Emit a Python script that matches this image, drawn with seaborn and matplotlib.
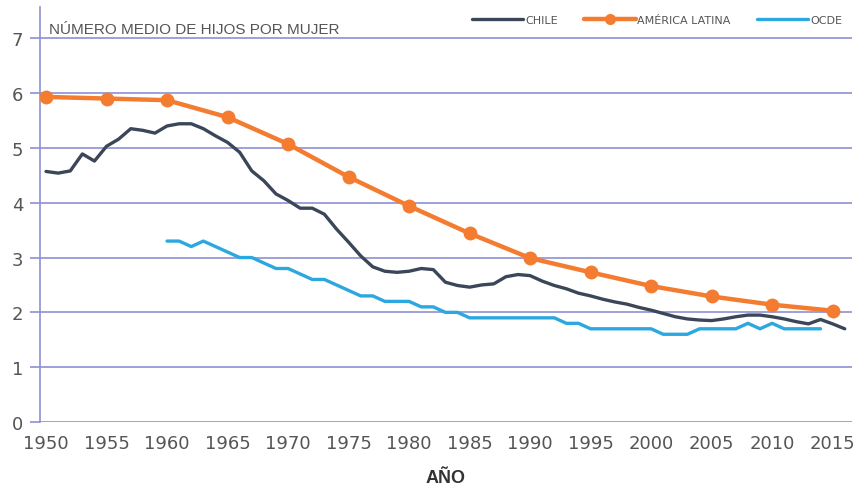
import matplotlib
matplotlib.use("Agg")
import matplotlib.pyplot as plt
import seaborn as sns
import numpy as np
import pandas as pd

# ---- data ----
chile_years = list(range(1950, 2017))
chile_values = [4.57, 4.54, 4.58, 4.89, 4.76, 5.03, 5.16, 5.35, 5.32, 5.27,
                5.40, 5.44, 5.44, 5.35, 5.22, 5.10, 4.92, 4.58, 4.40, 4.16,
                4.04, 3.90, 3.90, 3.79, 3.52, 3.28, 3.03, 2.83, 2.75, 2.73,
                2.75, 2.80, 2.78, 2.55, 2.49, 2.46, 2.50, 2.52, 2.65, 2.69,
                2.67, 2.57, 2.49, 2.43, 2.35, 2.30, 2.24, 2.19, 2.15, 2.09,
                2.04, 1.98, 1.92, 1.88, 1.86, 1.85, 1.88, 1.92, 1.95, 1.95,
                1.92, 1.88, 1.83, 1.79, 1.87, 1.79, 1.70]

latam_years = list(range(1950, 2016, 5))
latam_values = [5.93, 5.90, 5.87, 5.56, 5.07, 4.47, 3.94, 3.44, 2.99, 2.73,
                2.48, 2.29, 2.14, 2.03]

ocde_years = list(range(1960, 2015))
ocde_values = [3.3, 3.3, 3.2, 3.3, 3.2, 3.1, 3.0, 3.0, 2.9, 2.8,
               2.8, 2.7, 2.6, 2.6, 2.5, 2.4, 2.3, 2.3, 2.2, 2.2,
               2.2, 2.1, 2.1, 2.0, 2.0, 1.9, 1.9, 1.9, 1.9, 1.9,
               1.9, 1.9, 1.9, 1.8, 1.8, 1.7, 1.7, 1.7, 1.7, 1.7,
               1.7, 1.6, 1.6, 1.6, 1.7, 1.7, 1.7, 1.7, 1.8, 1.7,
               1.8, 1.7, 1.7, 1.7, 1.7]

x_ticks = list(range(1950, 2016, 5))
y_ticks = list(range(0, 8))
title_text = "NÚMERO MEDIO DE HIJOS POR MUJER"
x_label = "AÑO"
labels = ["CHILE", "AMÉRICA LATINA", "OCDE"]

# ---- style ----
sns.set_style("white")
plt.rcParams["font.family"] = ["DejaVu Sans"]

grid_c = "#8e90d2"
c_chile = "#3b4759"
c_latam = "#f47c30"
c_ocde = "#2ba8df"
txt_c = "#555555"

fig = plt.figure(figsize=(8.56, 4.89), dpi=100)
ax = fig.add_axes([40 / 856, 1 - 423 / 489, (852 - 40) / 856, (423 - 8) / 489])

df_chile = pd.DataFrame({"year": chile_years, "value": chile_values})
df_latam = pd.DataFrame({"year": latam_years, "value": latam_values})
df_ocde = pd.DataFrame({"year": ocde_years, "value": ocde_values})

for y in y_ticks:
    ax.axhline(y, color=grid_c, lw=1.2, zorder=0)

sns.lineplot(data=df_chile, x="year", y="value", ax=ax, color=c_chile, lw=2.4,
             label=labels[0], zorder=3)
sns.lineplot(data=df_latam, x="year", y="value", ax=ax, color=c_latam, lw=3.2,
             marker="o", markersize=10, markeredgewidth=0, label=labels[1], zorder=4)
sns.lineplot(data=df_ocde, x="year", y="value", ax=ax, color=c_ocde, lw=2.4,
             label=labels[2], zorder=2)

ax.set_xlim(1949.5, 2016.6)
ax.set_ylim(0, 7.57)
ax.set_xticks(x_ticks)
ax.set_yticks(y_ticks)
ax.tick_params(axis="y", length=7, width=1.2, color=grid_c, labelsize=13,
               labelcolor=txt_c, pad=5, left=True)
ax.tick_params(axis="x", length=0, labelsize=13, labelcolor=txt_c, pad=9)

for s in ["top", "right", "bottom"]:
    ax.spines[s].set_visible(False)
ax.spines["left"].set_color(grid_c)
ax.spines["left"].set_linewidth(1.2)

ax.set_ylabel("")
ax.set_xlabel(x_label, fontsize=13, fontweight="bold", color="#333333",
              family=["Liberation Sans", "DejaVu Sans"], labelpad=12)

ax.text(0.0115, 0.965, title_text, transform=ax.transAxes, ha="left", va="top",
        fontsize=11, color=txt_c, family=["Liberation Sans", "DejaVu Sans"])

leg = ax.legend(loc="upper right", bbox_to_anchor=(1.0, 1.005), ncol=3, frameon=False,
                fontsize=8, handlelength=4.6, columnspacing=2.4, handletextpad=0.15,
                labelcolor=txt_c, markerscale=0.8)

fig.savefig("out.png", dpi=100)
